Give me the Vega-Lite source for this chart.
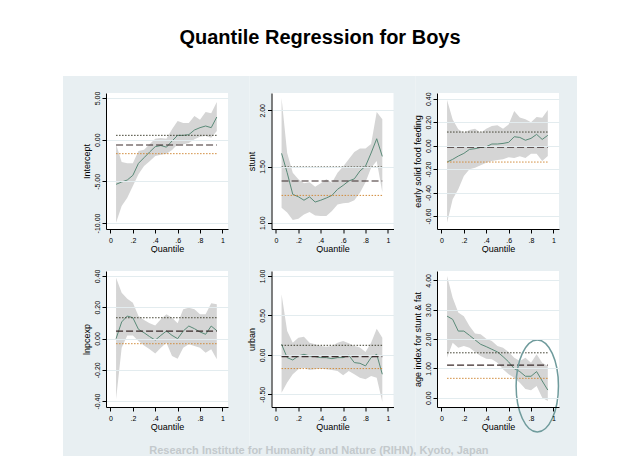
{
"$schema": "https://vega.github.io/schema/vega-lite/v6.json",
"background": "white",
"padding": {"left": 62, "top": 28, "right": 0, "bottom": 0},
"title": {"text": "Quantile Regression for Boys", "font": "Liberation Sans", "fontSize": 20, "fontWeight": "bold", "color": "black", "anchor": "middle", "offset": 28},
"datasets": {
"ols": [
{"panel": "Intercept", "b": -0.64, "blo": -1.68, "bhi": 0.52},
{"panel": "stunt", "b": 1.371, "blo": 1.243, "bhi": 1.496},
{"panel": "early solid food feeding", "b": -0.012, "blo": -0.14, "bhi": 0.116},
{"panel": "lnpcexp", "b": 0.048, "blo": -0.033, "bhi": 0.133},
{"panel": "urban", "b": -0.022, "blo": -0.174, "bhi": 0.121},
{"panel": "age index for stunt & fat", "b": 1.11, "blo": 0.66, "bhi": 1.53}
],
"qr": [
{"panel":"Intercept","q":0.05,"est":-5.36,"lo":-9.96,"hi":-0.56},
{"panel":"Intercept","q":0.10,"est":-5.08,"lo":-7.96,"hi":-2.68},
{"panel":"Intercept","q":0.15,"est":-4.84,"lo":-6.96,"hi":-2.84},
{"panel":"Intercept","q":0.20,"est":-4.28,"lo":-5.56,"hi":-2.84},
{"panel":"Intercept","q":0.25,"est":-2.84,"lo":-4.16,"hi":-1.36},
{"panel":"Intercept","q":0.30,"est":-2.16,"lo":-3.16,"hi":-1.20},
{"panel":"Intercept","q":0.35,"est":-1.48,"lo":-2.60,"hi":-0.56},
{"panel":"Intercept","q":0.40,"est":-0.84,"lo":-1.96,"hi":0.12},
{"panel":"Intercept","q":0.45,"est":-0.70,"lo":-1.80,"hi":0.20},
{"panel":"Intercept","q":0.50,"est":-0.90,"lo":-1.70,"hi":0.12},
{"panel":"Intercept","q":0.55,"est":-0.16,"lo":-1.24,"hi":1.24},
{"panel":"Intercept","q":0.60,"est":0.52,"lo":-0.56,"hi":2.24},
{"panel":"Intercept","q":0.65,"est":0.52,"lo":-0.56,"hi":2.00},
{"panel":"Intercept","q":0.70,"est":0.60,"lo":-0.40,"hi":2.00},
{"panel":"Intercept","q":0.75,"est":1.16,"lo":0.04,"hi":2.84},
{"panel":"Intercept","q":0.80,"est":1.44,"lo":0.36,"hi":2.40},
{"panel":"Intercept","q":0.85,"est":1.64,"lo":0.44,"hi":3.32},
{"panel":"Intercept","q":0.90,"est":1.44,"lo":0.24,"hi":3.16},
{"panel":"Intercept","q":0.95,"est":2.72,"lo":1.04,"hi":4.52},
{"panel":"stunt","q":0.05,"est":1.617,"lo":1.134,"hi":2.11},
{"panel":"stunt","q":0.10,"est":1.445,"lo":1.09,"hi":1.62},
{"panel":"stunt","q":0.15,"est":1.252,"lo":1.024,"hi":1.445},
{"panel":"stunt","q":0.20,"est":1.231,"lo":1.036,"hi":1.386},
{"panel":"stunt","q":0.25,"est":1.20,"lo":1.074,"hi":1.35},
{"panel":"stunt","q":0.30,"est":1.23,"lo":1.095,"hi":1.36},
{"panel":"stunt","q":0.35,"est":1.184,"lo":1.065,"hi":1.32},
{"panel":"stunt","q":0.40,"est":1.20,"lo":1.06,"hi":1.35},
{"panel":"stunt","q":0.45,"est":1.22,"lo":1.06,"hi":1.386},
{"panel":"stunt","q":0.50,"est":1.243,"lo":1.104,"hi":1.356},
{"panel":"stunt","q":0.55,"est":1.297,"lo":1.163,"hi":1.445},
{"panel":"stunt","q":0.60,"est":1.332,"lo":1.172,"hi":1.50},
{"panel":"stunt","q":0.65,"est":1.371,"lo":1.178,"hi":1.564},
{"panel":"stunt","q":0.70,"est":1.39,"lo":1.20,"hi":1.63},
{"panel":"stunt","q":0.75,"est":1.46,"lo":1.267,"hi":1.66},
{"panel":"stunt","q":0.80,"est":1.503,"lo":1.36,"hi":1.66},
{"panel":"stunt","q":0.85,"est":1.62,"lo":1.49,"hi":1.70},
{"panel":"stunt","q":0.90,"est":1.747,"lo":1.55,"hi":1.985},
{"panel":"stunt","q":0.95,"est":1.59,"lo":1.27,"hi":1.92},
{"panel":"early solid food feeding","q":0.05,"est":-0.14,"lo":-0.657,"hi":0.389},
{"panel":"early solid food feeding","q":0.10,"est":-0.117,"lo":-0.458,"hi":0.224},
{"panel":"early solid food feeding","q":0.15,"est":-0.089,"lo":-0.373,"hi":0.139},
{"panel":"early solid food feeding","q":0.20,"est":-0.066,"lo":-0.259,"hi":0.11},
{"panel":"early solid food feeding","q":0.25,"est":-0.032,"lo":-0.202,"hi":0.133},
{"panel":"early solid food feeding","q":0.30,"est":-0.026,"lo":-0.188,"hi":0.144},
{"panel":"early solid food feeding","q":0.35,"est":-0.015,"lo":-0.168,"hi":0.11},
{"panel":"early solid food feeding","q":0.40,"est":-0.009,"lo":-0.145,"hi":0.144},
{"panel":"early solid food feeding","q":0.45,"est":0.014,"lo":-0.131,"hi":0.167},
{"panel":"early solid food feeding","q":0.50,"est":0.014,"lo":-0.123,"hi":0.173},
{"panel":"early solid food feeding","q":0.55,"est":0.019,"lo":-0.117,"hi":0.144},
{"panel":"early solid food feeding","q":0.60,"est":0.028,"lo":-0.10,"hi":0.18},
{"panel":"early solid food feeding","q":0.65,"est":0.076,"lo":-0.105,"hi":0.295},
{"panel":"early solid food feeding","q":0.70,"est":0.07,"lo":-0.09,"hi":0.24},
{"panel":"early solid food feeding","q":0.75,"est":0.046,"lo":-0.105,"hi":0.225},
{"panel":"early solid food feeding","q":0.80,"est":0.062,"lo":-0.07,"hi":0.20},
{"panel":"early solid food feeding","q":0.85,"est":0.096,"lo":-0.07,"hi":0.245},
{"panel":"early solid food feeding","q":0.90,"est":0.053,"lo":-0.131,"hi":0.238},
{"panel":"early solid food feeding","q":0.95,"est":0.088,"lo":-0.089,"hi":0.303},
{"panel":"lnpcexp","q":0.05,"est":-0.001,"lo":-0.389,"hi":0.389},
{"panel":"lnpcexp","q":0.10,"est":0.106,"lo":-0.059,"hi":0.293},
{"panel":"lnpcexp","q":0.15,"est":0.144,"lo":0.02,"hi":0.255},
{"panel":"lnpcexp","q":0.20,"est":0.133,"lo":0.02,"hi":0.229},
{"panel":"lnpcexp","q":0.25,"est":0.059,"lo":-0.016,"hi":0.144},
{"panel":"lnpcexp","q":0.30,"est":0.037,"lo":-0.044,"hi":0.118},
{"panel":"lnpcexp","q":0.35,"est":0.012,"lo":-0.069,"hi":0.097},
{"panel":"lnpcexp","q":0.40,"est":-0.01,"lo":-0.095,"hi":0.084},
{"panel":"lnpcexp","q":0.45,"est":0.02,"lo":-0.059,"hi":0.123},
{"panel":"lnpcexp","q":0.50,"est":0.048,"lo":-0.027,"hi":0.155},
{"panel":"lnpcexp","q":0.55,"est":0.02,"lo":-0.112,"hi":0.133},
{"panel":"lnpcexp","q":0.60,"est":-0.001,"lo":-0.129,"hi":0.097},
{"panel":"lnpcexp","q":0.65,"est":0.048,"lo":-0.059,"hi":0.187},
{"panel":"lnpcexp","q":0.70,"est":0.08,"lo":-0.037,"hi":0.197},
{"panel":"lnpcexp","q":0.75,"est":0.063,"lo":-0.048,"hi":0.187},
{"panel":"lnpcexp","q":0.80,"est":0.042,"lo":-0.059,"hi":0.155},
{"panel":"lnpcexp","q":0.85,"est":0.027,"lo":-0.091,"hi":0.155},
{"panel":"lnpcexp","q":0.90,"est":0.08,"lo":-0.069,"hi":0.225},
{"panel":"lnpcexp","q":0.95,"est":0.05,"lo":-0.133,"hi":0.219},
{"panel":"urban","q":0.05,"est":0.134,"lo":-0.479,"hi":0.768},
{"panel":"urban","q":0.10,"est":-0.035,"lo":-0.352,"hi":0.303},
{"panel":"urban","q":0.15,"est":-0.065,"lo":-0.246,"hi":0.155},
{"panel":"urban","q":0.20,"est":-0.014,"lo":-0.183,"hi":0.218},
{"panel":"urban","q":0.25,"est":0.007,"lo":-0.162,"hi":0.231},
{"panel":"urban","q":0.30,"est":-0.014,"lo":-0.191,"hi":0.155},
{"panel":"urban","q":0.35,"est":-0.022,"lo":-0.183,"hi":0.134},
{"panel":"urban","q":0.40,"est":-0.035,"lo":-0.175,"hi":0.113},
{"panel":"urban","q":0.45,"est":-0.035,"lo":-0.183,"hi":0.104},
{"panel":"urban","q":0.50,"est":-0.048,"lo":-0.191,"hi":0.113},
{"panel":"urban","q":0.55,"est":-0.035,"lo":-0.204,"hi":0.155},
{"panel":"urban","q":0.60,"est":-0.035,"lo":-0.259,"hi":0.176},
{"panel":"urban","q":0.65,"est":-0.005,"lo":-0.204,"hi":0.147},
{"panel":"urban","q":0.70,"est":-0.098,"lo":-0.246,"hi":0.113},
{"panel":"urban","q":0.75,"est":-0.107,"lo":-0.289,"hi":0.092},
{"panel":"urban","q":0.80,"est":-0.14,"lo":-0.31,"hi":0.037},
{"panel":"urban","q":0.85,"est":-0.035,"lo":-0.267,"hi":0.155},
{"panel":"urban","q":0.90,"est":0.007,"lo":-0.29,"hi":0.332},
{"panel":"urban","q":0.95,"est":-0.246,"lo":-0.597,"hi":0.218},
{"panel":"age index for stunt & fat","q":0.05,"est":2.78,"lo":1.36,"hi":4.15},
{"panel":"age index for stunt & fat","q":0.10,"est":2.67,"lo":1.875,"hi":3.41},
{"panel":"age index for stunt & fat","q":0.15,"est":2.27,"lo":1.70,"hi":2.90},
{"panel":"age index for stunt & fat","q":0.20,"est":2.27,"lo":1.76,"hi":2.78},
{"panel":"age index for stunt & fat","q":0.25,"est":2.125,"lo":1.70,"hi":2.44},
{"panel":"age index for stunt & fat","q":0.30,"est":1.97,"lo":1.56,"hi":2.19},
{"panel":"age index for stunt & fat","q":0.35,"est":1.82,"lo":1.42,"hi":2.16},
{"panel":"age index for stunt & fat","q":0.40,"est":1.74,"lo":1.33,"hi":2.01},
{"panel":"age index for stunt & fat","q":0.45,"est":1.65,"lo":1.31,"hi":1.93},
{"panel":"age index for stunt & fat","q":0.50,"est":1.56,"lo":1.19,"hi":1.76},
{"panel":"age index for stunt & fat","q":0.55,"est":1.40,"lo":0.97,"hi":1.70},
{"panel":"age index for stunt & fat","q":0.60,"est":1.22,"lo":0.80,"hi":1.56},
{"panel":"age index for stunt & fat","q":0.65,"est":0.99,"lo":0.68,"hi":1.36},
{"panel":"age index for stunt & fat","q":0.70,"est":0.89,"lo":0.51,"hi":1.25},
{"panel":"age index for stunt & fat","q":0.75,"est":0.73,"lo":0.30,"hi":1.36},
{"panel":"age index for stunt & fat","q":0.80,"est":0.73,"lo":0.25,"hi":1.19},
{"panel":"age index for stunt & fat","q":0.85,"est":0.89,"lo":0.40,"hi":1.48},
{"panel":"age index for stunt & fat","q":0.90,"est":0.57,"lo":0.0,"hi":1.19},
{"panel":"age index for stunt & fat","q":0.95,"est":0.26,"lo":-0.11,"hi":1.08}
]
},
"columns": 3,
"bounds": "flush",
"spacing": {"row": 42, "column": 43.5},
"concat": [
{"width":122,"height":136,"data":{"name":"qr"},
"transform":[{"filter":"datum.panel === 'Intercept'"},{"lookup":"panel","from":{"data":{"name":"ols"},"key":"panel","fields":["b","blo","bhi"]}}],
"layer":[
{"transform":[{"filter":"datum.q === 0.5"}],"mark":{"type":"rect","color":"#e8eff2","clip":false},"encoding":{"x":{"datum":-0.4242,"type":"quantitative"},"x2":{"datum":1.2421},"y":{"datum":7.64,"type":"quantitative"},"y2":{"datum":-13.6}}},
{"transform":[{"filter":"datum.q === 0.5"}],"mark":{"type":"rect","color":"white"},"encoding":{"x":{"datum":-0.04,"type":"quantitative"},"x2":{"datum":1.05},"y":{"datum":-10.72,"type":"quantitative"},"y2":{"datum":5.6}}},
{"mark":{"type":"area","color":"#d5d5d5","opacity":1},"encoding":{
"x":{"field":"q","type":"quantitative","title":"Quantile","scale":{"domain":[-0.04,1.05],"nice":false,"zero":false},"axis":{"zindex":1,"tickCount":20,"values":[0,0.2,0.4,0.6,0.8,1],"labelOverlap":false,"labelExpr":"datum.value === 0 ? '0' : datum.value === 1 ? '1' : '.' + round(datum.value * 10)"}},
"y":{"field":"lo","type":"quantitative","title":"Intercept","scale":{"domain":[-10.72,5.6],"nice":false,"zero":false},"axis":{"zindex":1,"tickCount":20,"values":[-10,-5,0,5],"labelOverlap":false,"labelExpr":"replace(format(datum.value, '.2f'), '\u2212', '-')"}},
"y2":{"field":"hi"}}},
{"mark":{"type":"line","color":"#5a8a78","strokeWidth":1},"encoding":{"x":{"field":"q","type":"quantitative","title":"Quantile"},"y":{"field":"est","type":"quantitative","title":"Intercept"}}},
{"mark":{"type":"line","color":"#3a2a2a","strokeWidth":1.2,"strokeDash":[7,3]},"encoding":{"x":{"field":"q","type":"quantitative","title":"Quantile"},"y":{"field":"b","type":"quantitative","title":"Intercept"}}},
{"mark":{"type":"line","color":"#3f3f2f","strokeWidth":1,"strokeDash":[1.5,1.5]},"encoding":{"x":{"field":"q","type":"quantitative","title":"Quantile"},"y":{"field":"bhi","type":"quantitative","title":"Intercept"}}},
{"mark":{"type":"line","color":"#d08a3a","strokeWidth":1,"strokeDash":[1.5,1.5]},"encoding":{"x":{"field":"q","type":"quantitative","title":"Quantile"},"y":{"field":"blo","type":"quantitative","title":"Intercept"}}}
]},
{"width":122,"height":136,"data":{"name":"qr"},
"transform":[{"filter":"datum.panel === 'stunt'"},{"lookup":"panel","from":{"data":{"name":"ols"},"key":"panel","fields":["b","blo","bhi"]}}],
"layer":[
{"transform":[{"filter":"datum.q === 0.5"}],"mark":{"type":"rect","color":"#e8eff2","clip":false},"encoding":{"x":{"datum":-0.2366,"type":"quantitative"},"x2":{"datum":1.2443},"y":{"datum":2.305,"type":"quantitative"},"y2":{"datum":0.7305}}},
{"transform":[{"filter":"datum.q === 0.5"}],"mark":{"type":"rect","color":"white"},"encoding":{"x":{"datum":-0.04,"type":"quantitative"},"x2":{"datum":1.05},"y":{"datum":0.944,"type":"quantitative"},"y2":{"datum":2.154}}},
{"mark":{"type":"area","color":"#d5d5d5","opacity":1},"encoding":{
"x":{"field":"q","type":"quantitative","title":"Quantile","scale":{"domain":[-0.04,1.05],"nice":false,"zero":false},"axis":{"zindex":1,"tickCount":20,"values":[0,0.2,0.4,0.6,0.8,1],"labelOverlap":false,"labelExpr":"datum.value === 0 ? '0' : datum.value === 1 ? '1' : '.' + round(datum.value * 10)"}},
"y":{"field":"lo","type":"quantitative","title":"stunt","scale":{"domain":[0.944,2.154],"nice":false,"zero":false},"axis":{"zindex":1,"tickCount":20,"values":[1,1.5,2],"labelOverlap":false,"labelExpr":"replace(format(datum.value, '.2f'), '\u2212', '-')"}},
"y2":{"field":"hi"}}},
{"mark":{"type":"line","color":"#5a8a78","strokeWidth":1},"encoding":{"x":{"field":"q","type":"quantitative","title":"Quantile"},"y":{"field":"est","type":"quantitative","title":"stunt"}}},
{"mark":{"type":"line","color":"#3a2a2a","strokeWidth":1.2,"strokeDash":[7,3]},"encoding":{"x":{"field":"q","type":"quantitative","title":"Quantile"},"y":{"field":"b","type":"quantitative","title":"stunt"}}},
{"mark":{"type":"line","color":"#3f3f2f","strokeWidth":1,"strokeDash":[1.5,1.5]},"encoding":{"x":{"field":"q","type":"quantitative","title":"Quantile"},"y":{"field":"bhi","type":"quantitative","title":"stunt"}}},
{"mark":{"type":"line","color":"#d08a3a","strokeWidth":1,"strokeDash":[1.5,1.5]},"encoding":{"x":{"field":"q","type":"quantitative","title":"Quantile"},"y":{"field":"blo","type":"quantitative","title":"stunt"}}}
]},
{"width":122,"height":136,"data":{"name":"qr"},
"transform":[{"filter":"datum.panel === 'early solid food feeding'"},{"lookup":"panel","from":{"data":{"name":"ols"},"key":"panel","fields":["b","blo","bhi"]}}],
"layer":[
{"transform":[{"filter":"datum.q === 0.5"}],"mark":{"type":"rect","color":"#e8eff2","clip":false},"encoding":{"x":{"datum":-0.2343,"type":"quantitative"},"x2":{"datum":1.2108},"y":{"datum":0.594,"type":"quantitative"},"y2":{"datum":-0.9157}}},
{"transform":[{"filter":"datum.q === 0.5"}],"mark":{"type":"rect","color":"white"},"encoding":{"x":{"datum":-0.04,"type":"quantitative"},"x2":{"datum":1.05},"y":{"datum":-0.711,"type":"quantitative"},"y2":{"datum":0.449}}},
{"mark":{"type":"area","color":"#d5d5d5","opacity":1},"encoding":{
"x":{"field":"q","type":"quantitative","title":"Quantile","scale":{"domain":[-0.04,1.05],"nice":false,"zero":false},"axis":{"zindex":1,"tickCount":20,"values":[0,0.2,0.4,0.6,0.8,1],"labelOverlap":false,"labelExpr":"datum.value === 0 ? '0' : datum.value === 1 ? '1' : '.' + round(datum.value * 10)"}},
"y":{"field":"lo","type":"quantitative","title":"early solid food feeding","scale":{"domain":[-0.711,0.449],"nice":false,"zero":false},"axis":{"zindex":1,"tickCount":20,"values":[-0.6,-0.4,-0.2,0,0.2,0.4],"labelOverlap":false,"labelExpr":"replace(format(datum.value, '.2f'), '\u2212', '-')"}},
"y2":{"field":"hi"}}},
{"mark":{"type":"line","color":"#5a8a78","strokeWidth":1},"encoding":{"x":{"field":"q","type":"quantitative","title":"Quantile"},"y":{"field":"est","type":"quantitative","title":"early solid food feeding"}}},
{"mark":{"type":"line","color":"#3a2a2a","strokeWidth":1.2,"strokeDash":[7,3]},"encoding":{"x":{"field":"q","type":"quantitative","title":"Quantile"},"y":{"field":"b","type":"quantitative","title":"early solid food feeding"}}},
{"mark":{"type":"line","color":"#3f3f2f","strokeWidth":1,"strokeDash":[1.5,1.5]},"encoding":{"x":{"field":"q","type":"quantitative","title":"Quantile"},"y":{"field":"bhi","type":"quantitative","title":"early solid food feeding"}}},
{"mark":{"type":"line","color":"#d08a3a","strokeWidth":1,"strokeDash":[1.5,1.5]},"encoding":{"x":{"field":"q","type":"quantitative","title":"Quantile"},"y":{"field":"blo","type":"quantitative","title":"early solid food feeding"}}}
]},
{"width":122,"height":136,"data":{"name":"qr"},
"transform":[{"filter":"datum.panel === 'lnpcexp'"},{"lookup":"panel","from":{"data":{"name":"ols"},"key":"panel","fields":["b","blo","bhi"]}}],
"layer":[
{"transform":[{"filter":"datum.q === 0.5"}],"mark":{"type":"rect","color":"#e8eff2","clip":false},"encoding":{"x":{"datum":-0.4242,"type":"quantitative"},"x2":{"datum":1.2421},"y":{"datum":0.5471,"type":"quantitative"},"y2":{"datum":-0.7514}}},
{"transform":[{"filter":"datum.q === 0.5"}],"mark":{"type":"rect","color":"white"},"encoding":{"x":{"datum":-0.04,"type":"quantitative"},"x2":{"datum":1.05},"y":{"datum":-0.438,"type":"quantitative"},"y2":{"datum":0.432}}},
{"mark":{"type":"area","color":"#d5d5d5","opacity":1},"encoding":{
"x":{"field":"q","type":"quantitative","title":"Quantile","scale":{"domain":[-0.04,1.05],"nice":false,"zero":false},"axis":{"zindex":1,"tickCount":20,"values":[0,0.2,0.4,0.6,0.8,1],"labelOverlap":false,"labelExpr":"datum.value === 0 ? '0' : datum.value === 1 ? '1' : '.' + round(datum.value * 10)"}},
"y":{"field":"lo","type":"quantitative","title":"lnpcexp","scale":{"domain":[-0.438,0.432],"nice":false,"zero":false},"axis":{"zindex":1,"tickCount":20,"values":[-0.4,-0.2,0,0.2,0.4],"labelOverlap":false,"labelExpr":"replace(format(datum.value, '.2f'), '\u2212', '-')"}},
"y2":{"field":"hi"}}},
{"mark":{"type":"line","color":"#5a8a78","strokeWidth":1},"encoding":{"x":{"field":"q","type":"quantitative","title":"Quantile"},"y":{"field":"est","type":"quantitative","title":"lnpcexp"}}},
{"mark":{"type":"line","color":"#3a2a2a","strokeWidth":1.2,"strokeDash":[7,3]},"encoding":{"x":{"field":"q","type":"quantitative","title":"Quantile"},"y":{"field":"b","type":"quantitative","title":"lnpcexp"}}},
{"mark":{"type":"line","color":"#3f3f2f","strokeWidth":1,"strokeDash":[1.5,1.5]},"encoding":{"x":{"field":"q","type":"quantitative","title":"Quantile"},"y":{"field":"bhi","type":"quantitative","title":"lnpcexp"}}},
{"mark":{"type":"line","color":"#d08a3a","strokeWidth":1,"strokeDash":[1.5,1.5]},"encoding":{"x":{"field":"q","type":"quantitative","title":"Quantile"},"y":{"field":"blo","type":"quantitative","title":"lnpcexp"}}}
]},
{"width":122,"height":136,"data":{"name":"qr"},
"transform":[{"filter":"datum.panel === 'urban'"},{"lookup":"panel","from":{"data":{"name":"ols"},"key":"panel","fields":["b","blo","bhi"]}}],
"layer":[
{"transform":[{"filter":"datum.q === 0.5"}],"mark":{"type":"rect","color":"#e8eff2","clip":false},"encoding":{"x":{"datum":-0.2366,"type":"quantitative"},"x2":{"datum":1.2443},"y":{"datum":1.2912,"type":"quantitative"},"y2":{"datum":-1.2821}}},
{"transform":[{"filter":"datum.q === 0.5"}],"mark":{"type":"rect","color":"white"},"encoding":{"x":{"datum":-0.04,"type":"quantitative"},"x2":{"datum":1.05},"y":{"datum":-0.661,"type":"quantitative"},"y2":{"datum":1.063}}},
{"mark":{"type":"area","color":"#d5d5d5","opacity":1},"encoding":{
"x":{"field":"q","type":"quantitative","title":"Quantile","scale":{"domain":[-0.04,1.05],"nice":false,"zero":false},"axis":{"zindex":1,"tickCount":20,"values":[0,0.2,0.4,0.6,0.8,1],"labelOverlap":false,"labelExpr":"datum.value === 0 ? '0' : datum.value === 1 ? '1' : '.' + round(datum.value * 10)"}},
"y":{"field":"lo","type":"quantitative","title":"urban","scale":{"domain":[-0.661,1.063],"nice":false,"zero":false},"axis":{"zindex":1,"tickCount":20,"values":[-0.5,0,0.5,1],"labelOverlap":false,"labelExpr":"replace(format(datum.value, '.2f'), '\u2212', '-')"}},
"y2":{"field":"hi"}}},
{"mark":{"type":"line","color":"#5a8a78","strokeWidth":1},"encoding":{"x":{"field":"q","type":"quantitative","title":"Quantile"},"y":{"field":"est","type":"quantitative","title":"urban"}}},
{"mark":{"type":"line","color":"#3a2a2a","strokeWidth":1.2,"strokeDash":[7,3]},"encoding":{"x":{"field":"q","type":"quantitative","title":"Quantile"},"y":{"field":"b","type":"quantitative","title":"urban"}}},
{"mark":{"type":"line","color":"#3f3f2f","strokeWidth":1,"strokeDash":[1.5,1.5]},"encoding":{"x":{"field":"q","type":"quantitative","title":"Quantile"},"y":{"field":"bhi","type":"quantitative","title":"urban"}}},
{"mark":{"type":"line","color":"#d08a3a","strokeWidth":1,"strokeDash":[1.5,1.5]},"encoding":{"x":{"field":"q","type":"quantitative","title":"Quantile"},"y":{"field":"blo","type":"quantitative","title":"urban"}}}
]},
{"width":122,"height":136,"data":{"name":"qr"},
"transform":[{"filter":"datum.panel === 'age index for stunt & fat'"},{"lookup":"panel","from":{"data":{"name":"ols"},"key":"panel","fields":["b","blo","bhi"]}}],
"layer":[
{"transform":[{"filter":"datum.q === 0.5"}],"mark":{"type":"rect","color":"#e8eff2","clip":false},"encoding":{"x":{"datum":-0.2343,"type":"quantitative"},"x2":{"datum":1.2108},"y":{"datum":4.9315,"type":"quantitative"},"y2":{"datum":-1.987}}},
{"transform":[{"filter":"datum.q === 0.5"}],"mark":{"type":"rect","color":"white"},"encoding":{"x":{"datum":-0.04,"type":"quantitative"},"x2":{"datum":1.05},"y":{"datum":-0.317,"type":"quantitative"},"y2":{"datum":4.318}}},
{"mark":{"type":"area","color":"#d5d5d5","opacity":1},"encoding":{
"x":{"field":"q","type":"quantitative","title":"Quantile","scale":{"domain":[-0.04,1.05],"nice":false,"zero":false},"axis":{"zindex":1,"tickCount":20,"values":[0,0.2,0.4,0.6,0.8,1],"labelOverlap":false,"labelExpr":"datum.value === 0 ? '0' : datum.value === 1 ? '1' : '.' + round(datum.value * 10)"}},
"y":{"field":"lo","type":"quantitative","title":"age index for stunt & fat","scale":{"domain":[-0.317,4.318],"nice":false,"zero":false},"axis":{"zindex":1,"tickCount":20,"values":[0,1,2,3,4],"labelOverlap":false,"labelExpr":"replace(format(datum.value, '.2f'), '\u2212', '-')"}},
"y2":{"field":"hi"}}},
{"mark":{"type":"line","color":"#5a8a78","strokeWidth":1},"encoding":{"x":{"field":"q","type":"quantitative","title":"Quantile"},"y":{"field":"est","type":"quantitative","title":"age index for stunt & fat"}}},
{"mark":{"type":"line","color":"#3a2a2a","strokeWidth":1.2,"strokeDash":[7,3]},"encoding":{"x":{"field":"q","type":"quantitative","title":"Quantile"},"y":{"field":"b","type":"quantitative","title":"age index for stunt & fat"}}},
{"mark":{"type":"line","color":"#3f3f2f","strokeWidth":1,"strokeDash":[1.5,1.5]},"encoding":{"x":{"field":"q","type":"quantitative","title":"Quantile"},"y":{"field":"bhi","type":"quantitative","title":"age index for stunt & fat"}}},
{"mark":{"type":"line","color":"#d08a3a","strokeWidth":1,"strokeDash":[1.5,1.5]},"encoding":{"x":{"field":"q","type":"quantitative","title":"Quantile"},"y":{"field":"blo","type":"quantitative","title":"age index for stunt & fat"}}},
{"transform":[{"filter":"datum.q === 0.5"}],"mark":{"type":"point","shape":"M0,-1A0.46,1,0,1,1,0,1A0.46,1,0,1,1,0,-1Z","size":8464,"filled":false,"stroke":"#6f9b9c","strokeWidth":1.5,"opacity":1,"clip":false},"encoding":{"x":{"datum":0.856,"type":"quantitative"},"y":{"datum":0.4,"type":"quantitative"}}},
{"transform":[{"filter":"datum.q === 0.5"}],"mark":{"type":"text","text":"Research Institute for Humanity and Nature (RIHN), Kyoto, Japan","font":"Liberation Sans","fontSize":11,"fontWeight":"bold","color":"#c3c9cc","align":"center","baseline":"middle","clip":false},"encoding":{"x":{"datum":-1.095,"type":"quantitative"},"y":{"datum":-1.83,"type":"quantitative"}}}
]}
],
"config": {
"font": "Liberation Sans",
"view": {"stroke": null, "fill": "white"},
"axis": {"labelFont":"Liberation Sans","titleFont":"Liberation Sans","labelColor":"black","titleColor":"black","domainColor":"black","tickColor":"black","labelFontSize":7,"titleFontSize":9,"titleFontWeight":"normal","tickSize":4,"domainWidth":1,"tickWidth":1,"labelFlush":false,"labelOverlap":false,"zindex":1},
"axisX": {"grid": false, "labelPadding": 3, "titlePadding": 1},
"axisY": {"grid": true, "gridColor": "#e3ecef", "gridWidth": 1, "labelAngle": -90, "labelAlign": "center", "labelBaseline": "bottom", "labelPadding": 2, "titlePadding": 2}
}
}
